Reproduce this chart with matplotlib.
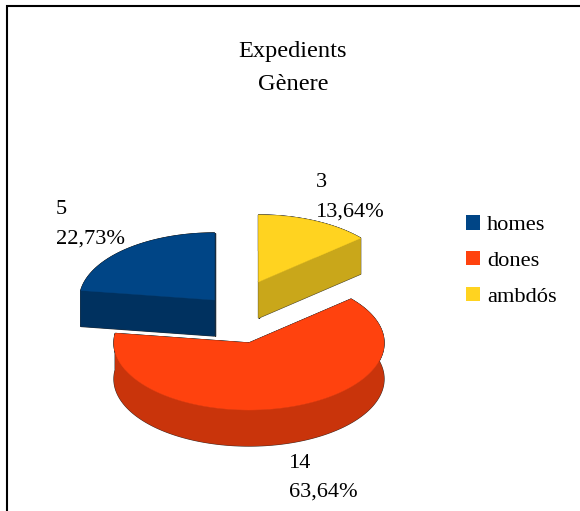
import numpy as np
import matplotlib
matplotlib.use("Agg")
import matplotlib.pyplot as plt
from matplotlib.patches import Patch

title_lines = ["Expedients", "Gènere"]
categories = ["homes", "dones", "ambdós"]
values = [5, 14, 3]
percent_labels = ["22,73%", "63,64%", "13,64%"]
top_colors = ["#004586", "#ff420e", "#ffd320"]
side_colors = ["#00315f", "#c9340b", "#c9a71a"]

W, H = 580, 511
plt.rcParams["font.family"] = ["Liberation Serif", "DejaVu Serif"]
fig = plt.figure(figsize=(W / 100, H / 100), dpi=100)
ax = fig.add_axes([0, 0, 1, 1])
ax.set_xlim(0, W)
ax.set_ylim(H, 0)
ax.axis("off")

rx, ry, depth = 135, 67, 36
centers = [(214.5, 300), (249, 343), (258.5, 282)]
label_pos = [(56, 209.5), (289, 463), (316, 182.5)]
fs = 16.1
title_fs = 17.6

fractions = np.array(values) / np.sum(values)
edges = np.concatenate([[0], np.cumsum(fractions)]) * 2 * np.pi


def arc(c, a0, a1, dz=0):
    a = np.linspace(a0, a1, 160)
    return np.column_stack([c[0] - rx * np.sin(a), c[1] - ry * np.cos(a) + dz])


for i in [1, 2, 0]:
    c = centers[i]
    a0, a1 = edges[i], edges[i + 1]
    top_arc = arc(c, a0, a1)
    apex = np.array([c])
    top = np.vstack([apex, top_arc])
    rim = np.vstack([top_arc, arc(c, a0, a1, depth)[::-1]])
    low = apex + [0, depth]
    cut0 = np.vstack([apex, top_arc[:1], top_arc[:1] + [0, depth], low])
    cut1 = np.vstack([apex, top_arc[-1:], top_arc[-1:] + [0, depth], low])
    sides = [rim, cut0, cut1]
    for p in sides + [top]:
        ax.fill(p[:, 0], p[:, 1], fc="none", ec="#2a2a2a", lw=0.9)
    for p in sides:
        ax.fill(p[:, 0], p[:, 1], fc=side_colors[i], ec=side_colors[i], lw=0.3)
    ax.fill(top[:, 0], top[:, 1], fc=top_colors[i], ec=top_colors[i], lw=0.3)

for k, t in enumerate(title_lines):
    ax.text(293, 52 + 33 * k, t, ha="center", va="center", fontsize=title_fs, color="black")

for i, (x, y) in enumerate(label_pos):
    ax.text(x, y, str(values[i]), ha="left", va="center", fontsize=fs, color="black")
    ax.text(x, y + 29.5, percent_labels[i], ha="left", va="center", fontsize=fs, color="black")

handles = [Patch(fc=col, ec="none", label=lab) for col, lab in zip(top_colors, categories)]
ax.legend(
    handles=handles, loc="upper left", bbox_to_anchor=(466 / W, 1 - 215 / H),
    frameon=False, fontsize=fs, handlelength=0.63, handleheight=0.63,
    handletextpad=0.31, labelspacing=0.7, borderpad=0, borderaxespad=0,
    labelcolor="black",
)

ax.plot([7, 7, W], [H, 6.5, 6.5], color="black", lw=1.5, solid_joinstyle="miter")
fig.savefig("out.png", dpi=100)
